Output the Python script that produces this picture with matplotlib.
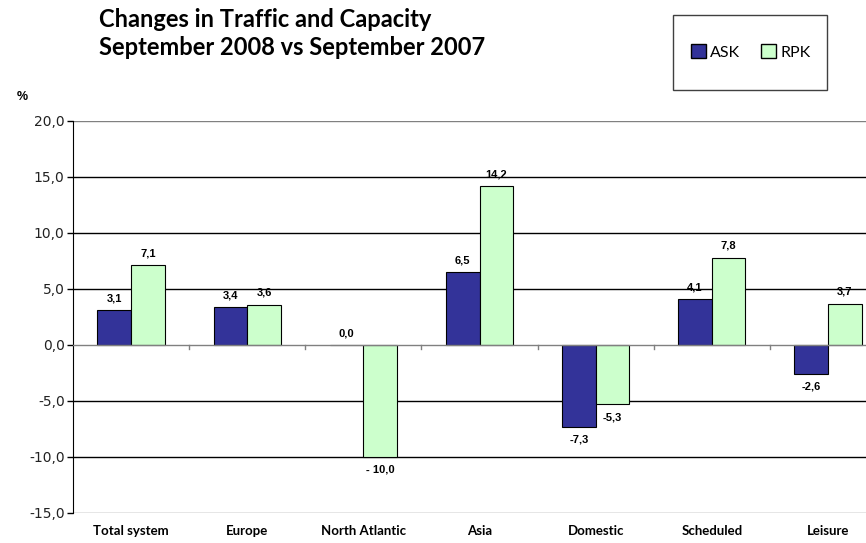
import numpy as np
import matplotlib
matplotlib.use("Agg")
from matplotlib import pyplot as plt
from matplotlib.patches import Patch, Rectangle

categories = ['Total system', 'Europe', 'North Atlantic', 'Asia', 'Domestic', 'Scheduled', 'Leisure']
ask = [3.1, 3.4, 0.0, 6.5, -7.3, 4.1, -2.6]
rpk = [7.1, 3.6, -10.0, 14.2, -5.3, 7.8, 3.7]
ask_lbl = ['3,1', '3,4', '0,0', '6,5', '-7,3', '4,1', '-2,6']
rpk_lbl = ['7,1', '3,6', '- 10,0', '14,2', '-5,3', '7,8', '3,7']
yticks = [-15, -10, -5, 0, 5, 10, 15, 20]

ask_col = '#333399'
rpk_col = '#CCFFCC'
hfont = 'Lato'

W, H = 866, 543
fig = plt.figure(figsize=(W/100, H/100), dpi=100)
# plot area runs past the right edge like the source
ax = fig.add_axes([73/W, 1-513/H, 813/W, 392/H])

x = np.arange(len(categories))
bw = 0.29
ax.bar(x - bw/2, ask, bw, color=ask_col, edgecolor='black', linewidth=0.8, zorder=3)
ax.bar(x + bw/2, rpk, bw, color=rpk_col, edgecolor='black', linewidth=0.8, zorder=3)

ax.set_xlim(-0.5, len(categories) - 0.5)
ax.set_ylim(-15, 20)

for v in yticks:
    if v == 0:
        continue
    ax.axhline(v, color='black' if v not in (20, -15) else '#808080', lw=1, zorder=1)
ax.axhline(0, color='#808080', lw=1, zorder=4)

ax.spines['top'].set_visible(False)
ax.spines['right'].set_visible(False)
ax.spines['bottom'].set_visible(False)
ax.spines['left'].set_color('black')
ax.set_yticks(yticks)
ax.set_yticklabels([f'{v:.1f}'.replace('.', ',') for v in yticks], fontsize=10, color='#222222')
ax.tick_params(axis='y', length=4, width=1, pad=2)
ax.set_xticks([])

# category boundary ticks on the zero line
for b in np.arange(0.5, len(categories) - 0.5, 1):
    ax.plot([b, b], [0, -0.35], color='#808080', lw=1, zorder=4)

for i in range(len(categories)):
    for val, lbl, off in ((ask[i], ask_lbl[i], -bw/2), (rpk[i], rpk_lbl[i], bw/2)):
        if val >= 0:
            ax.text(i + off, val + 0.6, lbl, ha='center', va='bottom', fontsize=8,
                    fontweight='bold', family='Liberation Sans')
        else:
            ax.text(i + off, val - 0.7, lbl, ha='center', va='top', fontsize=8,
                    fontweight='bold', family='Liberation Sans')
    ax.text(i, -16.1, categories[i], ha='center', va='top', fontsize=9.5,
            fontweight='bold', family=hfont)

fig.text(22/W, 1-97/H, '%', fontsize=9, fontweight='bold', family='Liberation Sans', ha='center', va='center')

fig.text(99/W, 1-8/H, 'Changes in Traffic and Capacity\nSeptember 2008 vs September 2007',
         fontsize=17, fontweight='bold', family=hfont, ha='left', va='top', linespacing=1.25)

# legend box drawn separately (source has wide vertical padding)
fig.patches.append(Rectangle((673/W, 1-90/H), 154/W, 75/H, transform=fig.transFigure,
                             facecolor='white', edgecolor='#404040', lw=1, zorder=1))
leg = fig.legend(handles=[Patch(facecolor=ask_col, edgecolor='black', label='ASK'),
                          Patch(facecolor=rpk_col, edgecolor='black', label='RPK')],
                 loc='center', bbox_to_anchor=(751/W, 1-52/H), ncol=2, frameon=False,
                 fontsize=11.5, handlelength=0.9, handleheight=0.9, handletextpad=0.3,
                 columnspacing=1.3, borderpad=0, borderaxespad=0)
leg.set_zorder(5)
for t in leg.get_texts():
    t.set_family(hfont)

fig.savefig('out.png', dpi=100)
